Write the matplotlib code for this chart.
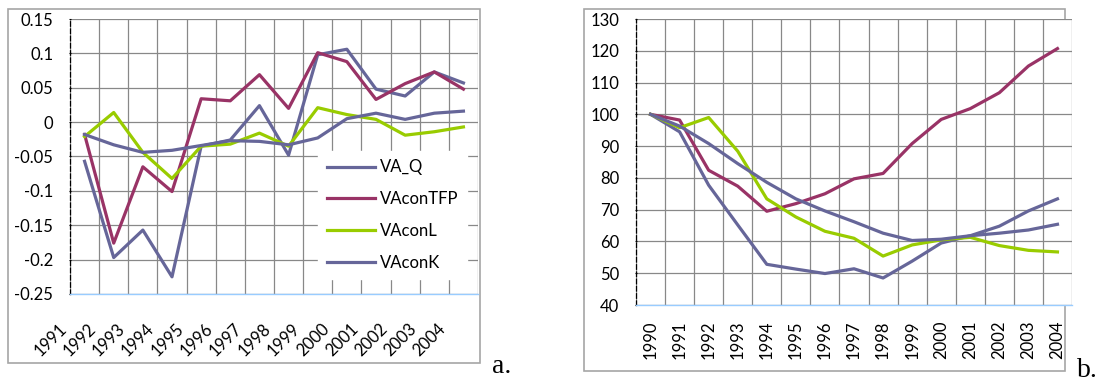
import numpy as np
import matplotlib
matplotlib.use("Agg")
import matplotlib.pyplot as plt
from matplotlib.patches import Rectangle

plt.rcParams['font.family'] = ['Lato', 'DejaVu Sans']

# chart a: yearly changes
years_a = [str(y) for y in range(1991, 2005)]
va_q_a = [-0.057, -0.197, -0.157, -0.225, -0.035, -0.026, 0.024, -0.048,
          0.098, 0.106, 0.048, 0.038, 0.073, 0.057]
va_tfp_a = [-0.018, -0.176, -0.065, -0.101, 0.034, 0.031, 0.069, 0.020,
            0.101, 0.088, 0.033, 0.056, 0.073, 0.048]
va_l_a = [-0.021, 0.014, -0.044, -0.082, -0.035, -0.032, -0.016, -0.035,
          0.021, 0.011, 0.004, -0.019, -0.014, -0.007]
va_k_a = [-0.018, -0.033, -0.044, -0.041, -0.034, -0.027, -0.028, -0.033,
          -0.023, 0.005, 0.013, 0.004, 0.013, 0.016]

# chart b: index, 1990 = 100
years_b = [str(y) for y in range(1990, 2005)]
va_q_b = [100, 94.5, 77.7, 65.2, 52.8, 51.3, 49.9, 51.4, 48.5, 53.8,
          59.5, 61.8, 64.8, 69.6, 73.4]
va_tfp_b = [100, 98.2, 82.4, 77.4, 69.5, 71.9, 75.0, 79.7, 81.4, 90.8,
            98.4, 101.8, 106.8, 115.2, 120.7]
va_l_b = [100, 95.8, 99.0, 88.4, 73.4, 67.7, 63.2, 61.0, 55.4, 58.9,
          60.5, 61.3, 58.7, 57.2, 56.7]
va_k_b = [100, 96.3, 90.8, 84.5, 78.6, 73.4, 69.6, 66.2, 62.6, 60.3,
          60.7, 61.8, 62.6, 63.6, 65.4]

C_Q = '#666699'
C_TFP = '#993366'
C_L = '#99CC00'
C_K = '#666699'
GRID = '#888888'

W, H = 1099, 383
fig = plt.figure(figsize=(W / 100, H / 100), dpi=100)


def px(x0, y0, x1, y1):
    return [x0 / W, 1 - y1 / H, (x1 - x0) / W, (y1 - y0) / H]


# outer chart frames
for x0, y0, x1, y1 in [(8, 9, 480, 363), (584, 9, 1065, 371)]:
    fig.patches.append(Rectangle((x0 / W, 1 - y1 / H), (x1 - x0) / W, (y1 - y0) / H,
                                 transform=fig.transFigure, fill=False,
                                 edgecolor='#A6A6A6', lw=1.2, zorder=-5))


def style_axes(ax):
    for s in ['top', 'right']:
        ax.spines[s].set_visible(False)
    ax.spines['left'].set_linestyle((0, (3.6, 2.2)))
    ax.spines['left'].set_color('black')
    ax.spines['left'].set_linewidth(0.9)
    ax.spines['bottom'].set_color('#99CCFF')
    ax.spines['bottom'].set_linewidth(1.0)
    ax.grid(True, which='both', color=GRID, lw=0.9)
    ax.set_axisbelow(True)


# ---- chart a ----
ax = fig.add_axes(px(70, 19, 478, 294))
xa = np.arange(len(years_a))
ax.plot(xa, va_q_a, color=C_Q, lw=2.3, label='VA_Q')
ax.plot(xa, va_tfp_a, color=C_TFP, lw=2.3, label='VAconTFP')
ax.plot(xa, va_l_a, color=C_L, lw=2.3, label='VAconL')
ax.plot(xa, va_k_a, color=C_K, lw=2.3, label='VAconK')
ax.set_xlim(-0.5, len(years_a) - 0.5)
ax.set_ylim(-0.25, 0.15)
ax.set_yticks(np.arange(-0.25, 0.151, 0.05))
ax.set_yticklabels(['-0.25', '-0.2', '-0.15', '-0.1', '-0.05', '0', '0.05', '0.1', '0.15'])
ax.set_xticks(np.arange(len(years_a) + 1) - 0.5)
ax.set_xticklabels(years_a + [''], rotation=45, ha='right', va='top')
style_axes(ax)
ax.tick_params(axis='x', length=0, pad=19, labelsize=12)
ax.tick_params(axis='y', length=2, direction='inout', pad=11, labelsize=12)
leg = ax.legend(loc='upper left', bbox_to_anchor=(0.588, 0.55), fontsize=12,
                handlelength=2.9, handletextpad=0.3, labelspacing=0.95,
                borderpad=0.5, fancybox=False, framealpha=1)
leg.get_frame().set_edgecolor('white')
leg.get_frame().set_facecolor('white')

# ---- chart b ----
bx = fig.add_axes(px(636, 19, 1072, 305))
xb = np.arange(len(years_b))
bx.plot(xb, va_q_b, color=C_Q, lw=2.3)
bx.plot(xb, va_tfp_b, color=C_TFP, lw=2.3)
bx.plot(xb, va_l_b, color=C_L, lw=2.3)
bx.plot(xb, va_k_b, color=C_K, lw=2.3)
bx.set_xlim(-0.5, len(years_b) - 0.5)
bx.set_ylim(40, 130)
bx.set_yticks(np.arange(40, 131, 10))
bx.set_xticks(xb)
bx.set_xticks(np.arange(len(years_b) + 1) - 0.5, minor=True)
bx.set_xticklabels(years_b, rotation=90, ha='center', va='top')
style_axes(bx)
bx.grid(False, axis='x', which='major')
bx.tick_params(axis='x', which='both', length=0, pad=11, labelsize=12)
bx.tick_params(axis='y', length=2, direction='inout', pad=11, labelsize=12)

fig.text(492 / W, 1 - 373 / H, 'a.', family='Liberation Serif', fontsize=20, va='baseline')
fig.text(1077 / W, 1 - 377 / H, 'b.', family='Liberation Serif', fontsize=20, va='baseline')

fig.savefig('out.png', dpi=100, facecolor='white')
